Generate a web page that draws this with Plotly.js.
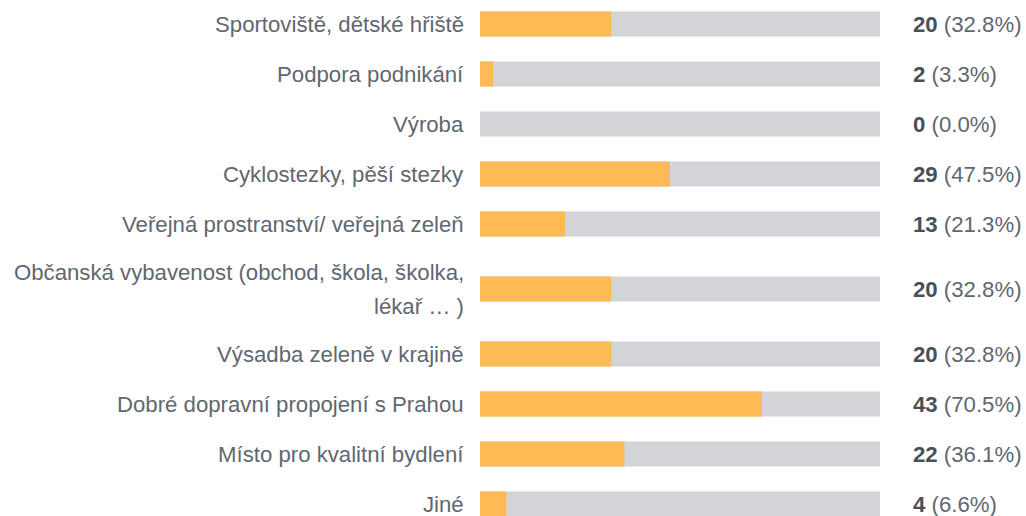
<!DOCTYPE html>
<html>
<head>
<meta charset="utf-8">
<script src="https://cdn.plot.ly/plotly-3.0.1.min.js"></script>
<style>html,body{margin:0;padding:0;background:#fff;}#chart{width:1026px;height:516px;}</style>
</head>
<body>
<div id="chart"></div>
<script>
const categories = [
  "Sportoviště, dětské hřiště",
  "Podpora podnikání",
  "Výroba",
  "Cyklostezky, pěší stezky",
  "Veřejná prostranství/ veřejná zeleň",
  "Občanská vybavenost (obchod, škola, školka,<br>lékař … )",
  "Výsadba zeleně v krajině",
  "Dobré dopravní propojení s Prahou",
  "Místo pro kvalitní bydlení",
  "Jiné"
];
const counts = [20, 2, 0, 29, 13, 20, 20, 43, 22, 4];
const percents = [32.8, 3.3, 0.0, 47.5, 21.3, 32.8, 32.8, 70.5, 36.1, 6.6];
const fullScale = [100, 100, 100, 100, 100, 100, 100, 100, 100, 100];

(function () {
const FONT = "Liberation Sans, Arial, sans-serif";
const FS = 22.2;
const LABEL_COLOR = "#5f6770";
const BOLD_COLOR = "#474f58";
const ROW_PX = 50;
const EXTRA_LINE_PX = 30;
const LINE_PX = 34;

// row centres computed from the number of lines in each label
const lines = categories.map(c => c.split("<br>"));
const rowH = lines.map(l => 1 + (l.length - 1) * (EXTRA_LINE_PX / ROW_PX));
const centers = [];
let cur = 0;
rowH.forEach((h, i) => {
  if (i > 0) cur += rowH[i - 1] / 2 + h / 2;
  centers.push(cur);
});

const H = 516;
const yTop = -24 / ROW_PX;
const yRange = [yTop + H / ROW_PX, yTop];

const traces = [
  {
    type: "bar", orientation: "h",
    x: fullScale, y: centers,
    width: 25 / ROW_PX,
    marker: {color: "#d3d4d8"},
    hoverinfo: "skip"
  },
  {
    type: "bar", orientation: "h",
    x: percents, y: centers,
    width: 25 / ROW_PX,
    marker: {color: "#fdba55"},
    hoverinfo: "skip"
  }
];

const annotations = [];
lines.forEach((l, i) => {
  const n = l.length;
  l.forEach((txt, j) => {
    annotations.push({
      xref: "paper", yref: "y", x: 0, y: centers[i],
      xanchor: "right", yanchor: "middle",
      xshift: -14, yshift: -((j - (n - 1) / 2) * LINE_PX),
      text: txt, showarrow: false,
      font: {family: FONT, size: FS, color: LABEL_COLOR}
    });
  });
  annotations.push({
    xref: "paper", yref: "y", x: 1, y: centers[i],
    xanchor: "left", yanchor: "middle", xshift: 31,
    text: "<b><span style='color:" + BOLD_COLOR + "'>" + counts[i] + "</span></b> (" + percents[i].toFixed(1) + "%)",
    showarrow: false,
    font: {family: FONT, size: FS, color: LABEL_COLOR}
  });
});

const layout = {
  width: 1026, height: H,
  margin: {l: 480, r: 146, t: 0, b: 0, pad: 0},
  paper_bgcolor: "#fff", plot_bgcolor: "#fff",
  barmode: "overlay",
  showlegend: false,
  xaxis: {range: [0, 100], visible: false, fixedrange: true},
  yaxis: {range: yRange, autorange: false, visible: false, fixedrange: true},
  annotations: annotations
};

Plotly.newPlot("chart", traces, layout, {displayModeBar: false, staticPlot: true});
})();
</script>
</body>
</html>
